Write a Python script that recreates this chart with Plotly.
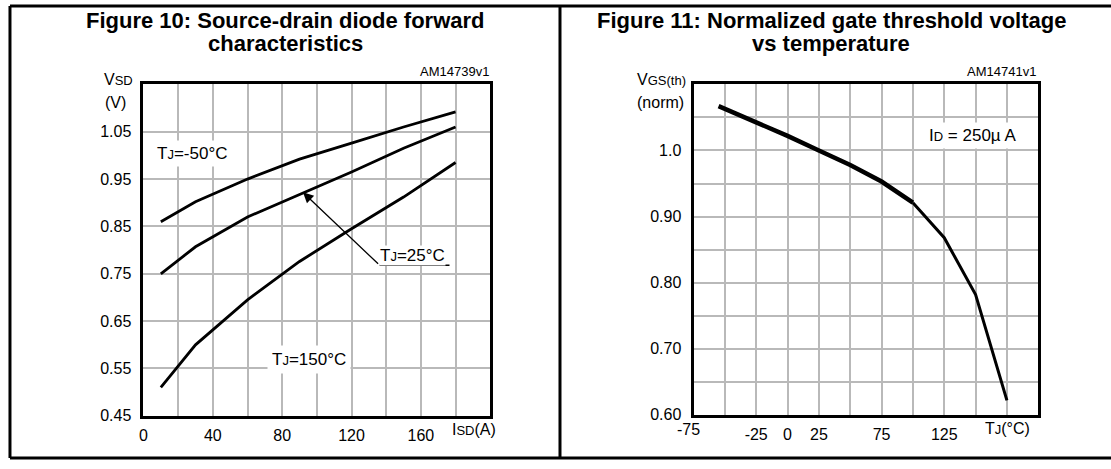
import plotly.graph_objects as go

# ---------------- data ----------------
isd = [10, 30, 60, 90, 120, 150, 180]
vsd_m50 = [0.86, 0.902, 0.95, 0.992, 1.026, 1.06, 1.092]
vsd_25 = [0.75, 0.807, 0.87, 0.918, 0.965, 1.015, 1.06]
vsd_150 = [0.51, 0.60, 0.695, 0.776, 0.845, 0.912, 0.985]

left_xticks = [0, 20, 40, 60, 80, 100, 120, 140, 160, 180, 200]
left_xtext = ["0", "", "40", "", "80", "", "120", "", "160", "", ""]
left_yticks = [0.45, 0.55, 0.65, 0.75, 0.85, 0.95, 1.05, 1.15]
left_ytext = ["0.45", "0.55", "0.65", "0.75", "0.85", "0.95", "1.05", ""]

tj = [-55, -25, 0, 25, 50, 75, 100, 125, 150, 175]
vgs_norm = [1.067, 1.043, 1.022, 1.0, 0.978, 0.953, 0.921, 0.868, 0.782, 0.622]

right_xticks = [-75, -50, -25, 0, 25, 50, 75, 100, 125, 150, 175, 200]
right_xtext = ["", "", "-25", "0", "25", "", "75", "", "125", "", "", ""]
right_yticks = [0.60, 0.65, 0.70, 0.75, 0.80, 0.85, 0.90, 0.95, 1.00, 1.05, 1.10]
right_ytext = ["0.60", "", "0.70", "", "0.80", "", "0.90", "", "1.0", "", ""]

W, H = 1111, 469
FONT = "Liberation Sans, Arial, sans-serif"


def px(x):
    return x / W


def py(y):
    return 1 - y / H


fig = go.Figure()

for ys in (vsd_m50, vsd_25, vsd_150):
    fig.add_trace(go.Scatter(x=isd, y=ys, mode="lines", xaxis="x", yaxis="y",
                             line=dict(color="black", width=2.8), showlegend=False,
                             hoverinfo="skip"))

split = 6
fig.add_trace(go.Scatter(x=tj[:split + 1], y=vgs_norm[:split + 1], mode="lines",
                         xaxis="x2", yaxis="y2",
                         line=dict(color="black", width=4.5), showlegend=False))
fig.add_trace(go.Scatter(x=tj[split:], y=vgs_norm[split:], mode="lines",
                         xaxis="x2", yaxis="y2",
                         line=dict(color="black", width=3), showlegend=False))

axis_common = dict(showgrid=True, gridcolor="#b9b9b9", gridwidth=1.5,
                   showline=True, linecolor="black", linewidth=3, mirror=True,
                   ticks="", zeroline=False, tickmode="array",
                   tickfont=dict(family=FONT, size=16, color="black"))

fig.update_layout(
    width=W, height=H,
    margin=dict(l=0, r=0, t=0, b=0),
    paper_bgcolor="white", plot_bgcolor="white",
    font=dict(family=FONT, color="black"),
    xaxis=dict(domain=[px(140), px(488)], range=[0, 200], anchor="y",
               tickvals=left_xticks, ticktext=left_xtext, ticklabelstandoff=3,
               **axis_common),
    yaxis=dict(domain=[py(424), py(86)], range=[0.45, 1.15], anchor="x",
               tickvals=left_yticks, ticktext=left_ytext, ticklabelstandoff=6,
               **axis_common),
    xaxis2=dict(domain=[px(692), px(1038)], range=[-75, 200], anchor="y2",
                tickvals=right_xticks, ticktext=right_xtext, ticklabelstandoff=3,
                **axis_common),
    yaxis2=dict(domain=[py(423), py(86)], range=[0.60, 1.10], anchor="x2",
                tickvals=right_yticks, ticktext=right_ytext, ticklabelstandoff=6,
                **axis_common),
)

ann = []


def pann(text, x, y, font, xanchor="center", **kw):
    d = dict(text=text, x=px(x), y=py(y), xref="paper", yref="paper",
             xanchor=xanchor, yanchor="middle", showarrow=False, font=font)
    d.update(kw)
    ann.append(d)


title_font = dict(family=FONT, size=22, color="black")
pann("<b>Figure 10: Source-drain diode forward</b>", 283, 21, title_font)
pann("<b>characteristics</b>", 283, 44, title_font)
pann("<b>Figure 11: Normalized gate threshold voltage</b>", 830, 21, title_font)
pann("<b>vs temperature</b>", 830, 44, title_font)

small = dict(family=FONT, size=13, color="black")
pann("AM14739v1", 489, 73, small, xanchor="right")
pann("AM14741v1", 1038, 73, small, xanchor="right")

lab = dict(family=FONT, size=16, color="black")
pann("V<span style='font-size:13px'>SD</span>", 98, 81, lab, xanchor="left")
pann("(V)", 99, 105, lab, xanchor="left")
pann("V<span style='font-size:13px'>GS(th)</span>", 686, 81, lab, xanchor="right")
pann("(norm)", 684, 105, lab, xanchor="right")
pann("I<span style='font-size:13px'>SD</span>(A)", 448, 438, lab, xanchor="left")
pann("-75", 687, 438, lab)
ann.append(dict(text="T<span style='font-size:13px'>J</span>(°C)", x=175.5, y=py(437),
                xref="x2", yref="paper", xanchor="center", yanchor="middle",
                showarrow=False, font=lab))

curve_lab = dict(family=FONT, size=17, color="black")


def dann(text, x, y, font, ax="x", ay="y", **kw):
    d = dict(text=text, x=x, y=y, xref=ax, yref=ay, xanchor="center", yanchor="middle",
             showarrow=False, font=font)
    d.update(kw)
    ann.append(d)


dann("T<span style='font-size:13px'>J</span>=-50°C", 28, 1.004, curve_lab,
     bgcolor="white", borderpad=3)
dann("T<span style='font-size:13px'>J</span>=25°C", 155.4, 0.788, curve_lab,
     bgcolor="white", borderpad=0)
dann("T<span style='font-size:13px'>J</span>=150°C", 95.2, 0.570, curve_lab,
     bgcolor="white", borderpad=4)
# arrow pointing to Tj=25 curve
ann.append(dict(text="", x=92, y=0.922, ax=136.2, ay=0.768, xref="x", yref="y",
                axref="x", ayref="y", showarrow=True, arrowhead=2, arrowsize=1.6,
                arrowwidth=1.3, arrowcolor="black"))
dann("I<span style='font-size:13px'>D</span> = 250µ A", 147.4, 1.023,
     dict(family=FONT, size=17, color="black"), ax="x2", ay="y2",
     bgcolor="white", borderpad=3)

fig.update_layout(annotations=ann)

shapes = []
# underline of Tj=25 label
shapes.append(dict(type="line", xref="x", yref="y", x0=136.2, x1=176.5, y0=0.768, y1=0.768,
                   line=dict(color="black", width=1.3)))
# panel frame
frame = dict(color="black", width=3)
shapes.append(dict(type="line", xref="paper", yref="paper", x0=px(6), x1=px(1111),
                   y0=py(6), y1=py(6), line=frame))
shapes.append(dict(type="line", xref="paper", yref="paper", x0=px(6), x1=px(1111),
                   y0=py(467), y1=py(467), line=frame))
shapes.append(dict(type="line", xref="paper", yref="paper", x0=px(6), x1=px(6),
                   y0=py(6), y1=py(467), line=frame))
shapes.append(dict(type="line", xref="paper", yref="paper", x0=px(558), x1=px(558),
                   y0=py(6), y1=py(467), line=frame))
fig.update_layout(shapes=shapes)

fig.write_html(
    "out.html",
    config={"displayModeBar": False},
    post_script=("document.body.style.margin='0';"
                 "document.body.style.overflow='hidden';"
                 "document.documentElement.style.overflow='hidden';"),
)
